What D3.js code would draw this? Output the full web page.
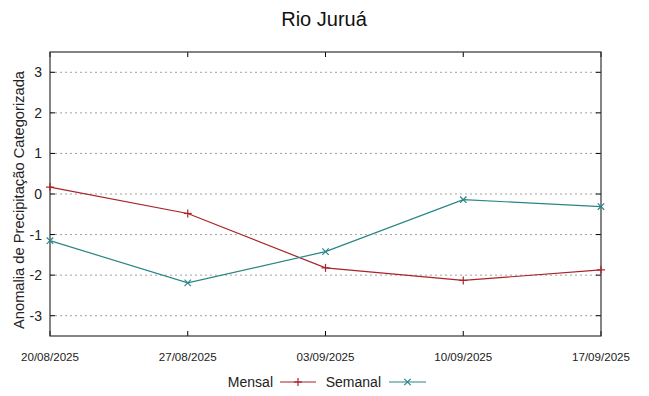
<!DOCTYPE html>
<html><head><meta charset="utf-8">
<script src="https://cdn.jsdelivr.net/npm/d3@7"></script>
<style>body{margin:0;background:#fff}</style>
</head><body>
<svg id="c" width="649" height="396"></svg>
<script>
const title = "Rio Juruá";
const yLabel = "Anomalia de Precipitação Categorizada";
const dates = ["20/08/2025","27/08/2025","03/09/2025","10/09/2025","17/09/2025"];
const mensal = [0.17, -0.48, -1.82, -2.13, -1.87];
const semanal = [-1.15, -2.19, -1.42, -0.14, -0.31];
const yTicks = [-3,-2,-1,0,1,2,3];
const seriesNames = ["Mensal","Semanal"];

const svg = d3.select("#c");
const L = 50, R = 601, T = 52, B = 336;
const x = d3.scalePoint().domain(dates).range([L, R]);
const y = d3.scaleLinear().domain([-3.5, 3.5]).range([B, T]);
const font = "Liberation Sans, Arial, sans-serif";
const axisCol = "#333";

// grid
svg.append("g").selectAll("line").data(yTicks).join("line")
  .attr("x1", L).attr("x2", R).attr("y1", d=>y(d)).attr("y2", d=>y(d))
  .attr("stroke", "#a0a0a0").attr("stroke-width", 1).attr("stroke-dasharray", "2,3");

// ticks left/right (inward)
const tl = 5;
svg.append("g").selectAll("line").data(yTicks).join("line")
  .attr("x1", L).attr("x2", L+tl).attr("y1", d=>y(d)).attr("y2", d=>y(d)).attr("stroke", "#000");
svg.append("g").selectAll("line").data(yTicks).join("line")
  .attr("x1", R-tl).attr("x2", R).attr("y1", d=>y(d)).attr("y2", d=>y(d)).attr("stroke", "#000");
// ticks top/bottom
svg.append("g").selectAll("line").data(dates).join("line")
  .attr("x1", d=>x(d)).attr("x2", d=>x(d)).attr("y1", B).attr("y2", B-tl).attr("stroke", "#000");
svg.append("g").selectAll("line").data(dates).join("line")
  .attr("x1", d=>x(d)).attr("x2", d=>x(d)).attr("y1", T).attr("y2", T+tl).attr("stroke", "#000");

// frame
svg.append("rect").attr("x", L).attr("y", T).attr("width", R-L).attr("height", B-T)
  .attr("fill", "none").attr("stroke", axisCol).attr("stroke-width", 1.2);

// y tick labels
svg.append("g").selectAll("text").data(yTicks).join("text")
  .attr("x", L-8).attr("y", d=>y(d)).attr("dy", "0.36em").attr("text-anchor", "end")
  .attr("font-family", font).attr("font-size", 14).attr("fill", "#222").text(d=>d);

// x tick labels
svg.append("g").selectAll("text").data(dates).join("text")
  .attr("x", d=>x(d)).attr("y", 361).attr("text-anchor", "middle")
  .attr("font-family", font).attr("font-size", 11).attr("fill", "#222")
  .attr("textLength", 58).attr("lengthAdjust", "spacingAndGlyphs").text(d=>d);

// title
svg.append("text").attr("x", 324).attr("y", 26).attr("text-anchor", "middle")
  .attr("font-family", font).attr("font-size", 20).attr("fill", "#111").text(title);

// y label
svg.append("text").attr("transform", `translate(24,200) rotate(-90)`)
  .attr("text-anchor", "middle").attr("font-family", font).attr("font-size", 14.7)
  .attr("fill", "#222").text(yLabel);

const colors = ["#a8232a", "#2a8585"];
const line = d3.line().x((d,i)=>x(dates[i])).y(d=>y(d));
[mensal, semanal].forEach((s, k) => {
  svg.append("path").datum(s).attr("d", line).attr("fill", "none")
    .attr("stroke", colors[k]).attr("stroke-width", 1.2);
  const g = svg.append("g").attr("stroke", colors[k]).attr("stroke-width", 1.2);
  s.forEach((v, i) => {
    const cx = x(dates[i]), cy = y(v), r = 4;
    if (k === 0) {
      g.append("line").attr("x1", cx-r).attr("x2", cx+r).attr("y1", cy).attr("y2", cy);
      g.append("line").attr("x1", cx).attr("x2", cx).attr("y1", cy-r).attr("y2", cy+r);
    } else {
      const q = 3.2;
      g.append("line").attr("x1", cx-q).attr("x2", cx+q).attr("y1", cy-q).attr("y2", cy+q);
      g.append("line").attr("x1", cx-q).attr("x2", cx+q).attr("y1", cy+q).attr("y2", cy-q);
    }
  });
});

// legend
const ly = 382;
const leg = [
  {name: seriesNames[0], tx: 273, x1: 280, x2: 316},
  {name: seriesNames[1], tx: 381, x1: 389, x2: 426}
];
leg.forEach((l, k) => {
  svg.append("text").attr("x", l.tx).attr("y", ly).attr("dy", "0.36em").attr("text-anchor", "end")
    .attr("font-family", font).attr("font-size", 14).attr("fill", "#222").text(l.name);
  svg.append("line").attr("x1", l.x1).attr("x2", l.x2).attr("y1", ly).attr("y2", ly)
    .attr("stroke", colors[k]).attr("stroke-width", 1.2);
  const cx = (l.x1+l.x2)/2;
  const g = svg.append("g").attr("stroke", colors[k]).attr("stroke-width", 1.2);
  if (k === 0) {
    g.append("line").attr("x1", cx-4).attr("x2", cx+4).attr("y1", ly).attr("y2", ly);
    g.append("line").attr("x1", cx).attr("x2", cx).attr("y1", ly-4).attr("y2", ly+4);
  } else {
    g.append("line").attr("x1", cx-3.2).attr("x2", cx+3.2).attr("y1", ly-3.2).attr("y2", ly+3.2);
    g.append("line").attr("x1", cx-3.2).attr("x2", cx+3.2).attr("y1", ly+3.2).attr("y2", ly-3.2);
  }
});
</script>
</body></html>
